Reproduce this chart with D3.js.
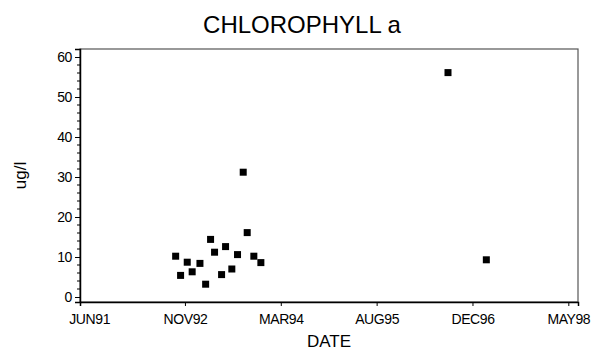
<!DOCTYPE html>
<html>
<head>
<meta charset="utf-8">
<script src="https://cdn.jsdelivr.net/npm/d3@7"></script>
<style>
  html, body { margin: 0; padding: 0; background: #fff; }
  svg { display: block; }
  text { font-family: "Liberation Sans", Arial, Helvetica, sans-serif; fill: #000; }
</style>
</head>
<body>
<svg id="chart" width="597" height="354"></svg>
<script>
// ---- data ----
const sampleDates = [
  "1992-09-18", "1992-10-14", "1992-11-18", "1992-12-14", "1993-01-24",
  "1993-02-23", "1993-03-21", "1993-04-11", "1993-05-18", "1993-06-08",
  "1993-07-11", "1993-08-10", "1993-09-09", "1993-09-30", "1993-11-04",
  "1993-12-11", "1996-08-23", "1997-03-13"
];
const chlorophyll = [
  10.2, 5.4, 8.7, 6.3, 8.4,
  3.2, 14.4, 11.2, 5.6, 12.6,
  7.0, 10.6, 31.2, 16.1, 10.2,
  8.6, 56.1, 9.3
];
const xTickDates = ["1991-06-20", "1992-11-06", "1994-03-26", "1995-08-13", "1996-12-30", "1998-05-19"];
const xTickLabels = ["JUN91", "NOV92", "MAR94", "AUG95", "DEC96", "MAY98"];
const yTickValues = [0, 10, 20, 30, 40, 50, 60];
const titleText = "CHLOROPHYLL a";
const xTitle = "DATE";
const yTitle = "ug/l";

// ---- layout ----
const parse = d3.utcParse("%Y-%m-%d");
const svg = d3.select("#chart");
const mLeft = 80, mRight = 578, mTop = 49, mBottom = 302;

const x = d3.scaleUtc()
  .domain([parse("1991-05-03"), parse("1998-07-09")])
  .range([mLeft, mRight]);
const y = d3.scaleLinear()
  .domain([-1.25, 62])
  .range([mBottom, mTop]);

svg.append("rect").attr("width", 597).attr("height", 354).attr("fill", "#fff");

// frame
svg.append("rect")
  .attr("x", mLeft).attr("y", mTop)
  .attr("width", mRight - mLeft).attr("height", mBottom - mTop)
  .attr("fill", "none").attr("stroke", "#555").attr("stroke-width", 1.2);

// title
svg.append("text")
  .attr("x", 302).attr("y", 33)
  .attr("text-anchor", "middle")
  .attr("font-size", 24)
  .text(titleText);

// x axis
const xTicks = xTickDates.map(parse);
const xAxis = d3.axisBottom(x)
  .tickValues(xTicks)
  .tickFormat((d, i) => xTickLabels[i])
  .tickSizeOuter(0)
  .tickSize(4)
  .tickPadding(8);
const gx = svg.append("g").attr("transform", `translate(0,${mBottom})`).call(xAxis);
gx.select(".domain").attr("stroke", "#000").attr("stroke-width", 1.5);
gx.selectAll(".tick line").attr("stroke", "#000");
gx.selectAll(".tick").filter((d, i) => i === 0).select("line").remove();
gx.selectAll(".tick text")
  .attr("font-size", 14)
  .attr("font-family", "Liberation Sans, Arial, sans-serif")
  .attr("letter-spacing", "-0.4")
  .attr("fill", "#000");

// y minor ticks
const minorVals = d3.range(0, 60, 2).filter(v => v % 10 !== 0);
svg.append("g").selectAll("line").data(minorVals).join("line")
  .attr("x1", mLeft - 3).attr("x2", mLeft)
  .attr("y1", d => y(d)).attr("y2", d => y(d))
  .attr("stroke", "#000").attr("stroke-width", 1);

// y axis
const yAxis = d3.axisLeft(y)
  .tickValues(yTickValues)
  .tickSizeOuter(0)
  .tickSize(5)
  .tickPadding(3);
const gy = svg.append("g").attr("transform", `translate(${mLeft},0)`).call(yAxis);
gy.select(".domain").attr("stroke", "#000").attr("stroke-width", 1.5);
gy.selectAll(".tick line").attr("stroke", "#000");
gy.selectAll(".tick text")
  .attr("font-size", 14)
  .attr("font-family", "Liberation Sans, Arial, sans-serif")
  .attr("letter-spacing", "-0.4")
  .attr("fill", "#000");

// axis titles
svg.append("text")
  .attr("x", (mLeft + mRight) / 2).attr("y", 347)
  .attr("text-anchor", "middle")
  .attr("font-size", 17)
  .text(xTitle);
svg.append("text")
  .attr("transform", `translate(26,${(mTop + mBottom) / 2}) rotate(-90)`)
  .attr("text-anchor", "middle")
  .attr("font-size", 17)
  .text(yTitle);

// points
const pts = sampleDates.map((d, i) => ({ date: parse(d), value: chlorophyll[i] }));
const s = 7;
svg.append("g").selectAll("rect").data(pts).join("rect")
  .attr("x", d => x(d.date) - s / 2)
  .attr("y", d => y(d.value) - s / 2)
  .attr("width", s).attr("height", s)
  .attr("fill", "#000");
</script>
</body>
</html>
